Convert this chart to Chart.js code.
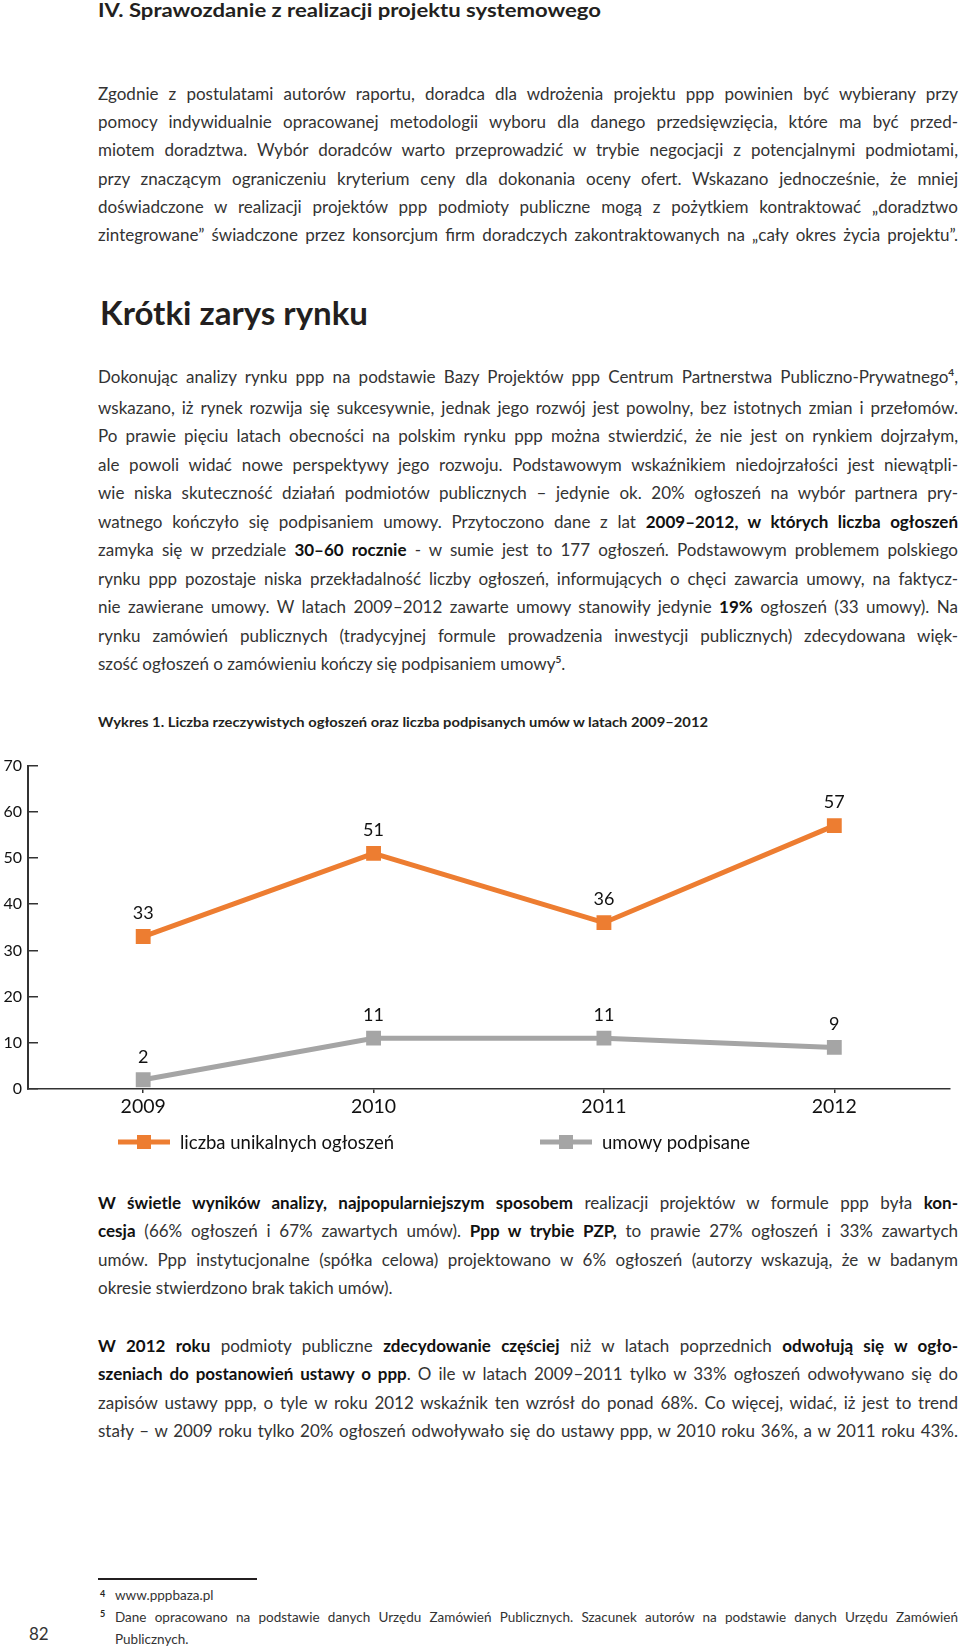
<!DOCTYPE html>
<html lang="pl">
<head>
<meta charset="utf-8">
<title>Krótki zarys rynku ppp</title>
<script src="https://cdn.jsdelivr.net/npm/chart.js@4.4.1/dist/chart.umd.min.js"></script>
<style>
  html, body { margin: 0; padding: 0; background: #fff; }
  body {
    width: 960px; height: 1650px; position: relative; overflow: hidden;
    font-family: Lato, "Open Sans", sans-serif; color: #231f20;
  }
  .one { position: absolute; white-space: nowrap; transform-origin: 0 0; }
  .para { position: absolute; left: 98px; width: 860px; font-size: 17px; font-weight: 400; color: #333; }
  .ln { white-space: nowrap; width: 860px; transform-origin: 0 0; }
  .ln.just { text-align: justify; text-align-last: justify; }
  b { font-weight: 700; color: #111; }
  .sup { font-size: 10px; position: relative; top: -7px; font-weight: 700; }
  #wykres { position: absolute; left: 0; top: 740px; }
</style>
</head>
<body>

<div class="one" data-w="503" style="left:98px;top:-1.5px;font-size:19px;line-height:22.8px;font-weight:700;">IV. Sprawozdanie z realizacji projektu systemowego</div>

<div class="para" style="top:79.7px;line-height:28.3px;">
  <div class="ln j"><span>Zgodnie z postulatami autorów raportu, doradca dla wdrożenia projektu ppp powinien być wybierany przy</span></div>
  <div class="ln j"><span>pomocy indywidualnie opracowanej metodologii wyboru dla danego przedsięwzięcia, które ma być przed-</span></div>
  <div class="ln j"><span>miotem doradztwa. Wybór doradców warto przeprowadzić w trybie negocjacji z potencjalnymi podmiotami,</span></div>
  <div class="ln j"><span>przy znaczącym ograniczeniu kryterium ceny dla dokonania oceny ofert. Wskazano jednocześnie, że mniej</span></div>
  <div class="ln j"><span>doświadczone w realizacji projektów ppp podmioty publiczne mogą z pożytkiem kontraktować „doradztwo</span></div>
  <div class="ln j"><span>zintegrowane” świadczone przez konsorcjum firm doradczych zakontraktowanych na „cały okres życia projektu”.</span></div>
</div>

<div class="one" data-w="268" style="left:100px;top:293px;font-size:33px;line-height:39.6px;font-weight:700;">Krótki zarys rynku</div>

<div class="para" style="top:363px;line-height:28.5px;">
  <div class="ln j"><span>Dokonując analizy rynku ppp na podstawie Bazy Projektów ppp Centrum Partnerstwa Publiczno-Prywatnego<span class="sup">4</span>,</span></div>
  <div class="ln j"><span>wskazano, iż rynek rozwija się sukcesywnie, jednak jego rozwój jest powolny, bez istotnych zmian i przełomów.</span></div>
  <div class="ln j"><span>Po prawie pięciu latach obecności na polskim rynku ppp można stwierdzić, że nie jest on rynkiem dojrzałym,</span></div>
  <div class="ln j"><span>ale powoli widać nowe perspektywy jego rozwoju. Podstawowym wskaźnikiem niedojrzałości jest niewątpli-</span></div>
  <div class="ln j"><span>wie niska skuteczność działań podmiotów publicznych – jedynie ok. 20% ogłoszeń na wybór partnera pry-</span></div>
  <div class="ln j"><span>watnego kończyło się podpisaniem umowy. Przytoczono dane z lat <b>2009–2012, w których liczba ogłoszeń</b></span></div>
  <div class="ln j"><span>zamyka się w przedziale <b>30–60 rocznie</b> - w sumie jest to 177 ogłoszeń. Podstawowym problemem polskiego</span></div>
  <div class="ln j"><span>rynku ppp pozostaje niska przekładalność liczby ogłoszeń, informujących o chęci zawarcia umowy, na faktycz-</span></div>
  <div class="ln j"><span>nie zawierane umowy. W latach 2009–2012 zawarte umowy stanowiły jedynie <b>19%</b> ogłoszeń (33 umowy). Na</span></div>
  <div class="ln j"><span>rynku zamówień publicznych (tradycyjnej formule prowadzenia inwestycji publicznych) zdecydowana więk-</span></div>
  <div class="ln"><span>szość ogłoszeń o zamówieniu kończy się podpisaniem umowy<span class="sup">5</span>.</span></div>
</div>

<div class="one" data-w="610" style="left:98px;top:713.7px;font-size:13.5px;line-height:16.2px;font-weight:700;">Wykres 1. Liczba rzeczywistych ogłoszeń oraz liczba podpisanych umów w latach 2009–2012</div>

<canvas id="wykres" width="960" height="420"></canvas>

<div class="para" style="top:1189px;line-height:28.3px;">
  <div class="ln j"><span><b>W świetle wyników analizy, najpopularniejszym sposobem</b> realizacji projektów w formule ppp była <b>kon-</b></span></div>
  <div class="ln j"><span><b>cesja</b> (66% ogłoszeń i 67% zawartych umów). <b>Ppp w trybie PZP,</b> to prawie 27% ogłoszeń i 33% zawartych</span></div>
  <div class="ln j"><span>umów. Ppp instytucjonalne (spółka celowa) projektowano w 6% ogłoszeń (autorzy wskazują, że w badanym</span></div>
  <div class="ln"><span>okresie stwierdzono brak takich umów).</span></div>
</div>

<div class="para" style="top:1332px;line-height:28.3px;">
  <div class="ln j"><span><b>W 2012 roku</b> podmioty publiczne <b>zdecydowanie częściej</b> niż w latach poprzednich <b>odwołują się w ogło-</b></span></div>
  <div class="ln j"><span><b>szeniach do postanowień ustawy o ppp</b>. O ile w latach 2009–2011 tylko w 33% ogłoszeń odwoływano się do</span></div>
  <div class="ln j"><span>zapisów ustawy ppp, o tyle w roku 2012 wskaźnik ten wzrósł do ponad 68%. Co więcej, widać, iż jest to trend</span></div>
  <div class="ln j"><span>stały – w 2009 roku tylko 20% ogłoszeń odwoływało się do ustawy ppp, w 2010 roku 36%, a w 2011 roku 43%.</span></div>
</div>

<div style="position:absolute;left:98px;top:1578px;width:159px;height:1.5px;background:#231f20;"></div>
<div class="one" style="left:100px;top:1588px;font-size:9px;font-weight:700;">4</div>
<div class="one" style="left:115px;top:1587px;font-size:13.5px;line-height:16.2px;color:#333;">www.pppbaza.pl</div>
<div class="one" style="left:100px;top:1608px;font-size:9px;font-weight:700;">5</div>
<div class="para" style="left:115px;width:843px;top:1606px;font-size:13.5px;line-height:22px;">
  <div class="ln j" data-w="843" style="width:843px;"><span>Dane opracowano na podstawie danych Urzędu Zamówień Publicznych. Szacunek autorów na podstawie danych Urzędu Zamówień</span></div>
  <div class="ln" style="width:843px;"><span>Publicznych.</span></div>
</div>
<div class="one" style="left:29px;top:1624px;font-size:17px;line-height:20.4px;color:#333;">82</div>

<script>
// Wykres 1 - dane
const years = ["2009", "2010", "2011", "2012"];
const ogloszenia = [33, 51, 36, 57];
const umowy = [2, 11, 11, 9];
const yTicks = [0, 10, 20, 30, 40, 50, 60, 70];
const seriesNames = ["liczba unikalnych ogłoszeń", "umowy podpisane"];
const seriesColors = ["#ED7D31", "#A5A5A5"];

// justify lines of text, squeeze the ones that are too long
function fitText() {
    document.querySelectorAll(".ln").forEach(el => {
        const target = el.dataset.w ? +el.dataset.w : 860;
        const w = el.firstElementChild.getBoundingClientRect().width;
        if (w > target) {
            el.style.transform = `scaleX(${target / w})`;
        } else if (el.classList.contains("j")) {
            el.classList.add("just");
        }
    });
    document.querySelectorAll(".one[data-w]").forEach(el => {
        const w = el.getBoundingClientRect().width;
        el.style.transform = `scaleX(${+el.dataset.w / w})`;
    });
}

// value above every point
const valueLabels = {
    id: "valueLabels",
    afterDatasetsDraw(chart) {
        const ctx = chart.ctx;
        ctx.save();
        ctx.font = "18px Lato";
        ctx.fillStyle = "#111";
        ctx.textAlign = "center";
        ctx.textBaseline = "middle";
        chart.data.datasets.forEach((ds, i) => {
            chart.getDatasetMeta(i).data.forEach((pt, j) => {
                ctx.fillText(String(ds.data[j]), pt.x, pt.y - 23);
            });
        });
        ctx.restore();
    }
};

// legend row: line with square marker, then the name
const legendRow = {
    id: "legendRow",
    afterDraw(chart) {
        const ctx = chart.ctx;
        const y = 402;
        const xs = [118, 540];
        ctx.save();
        chart.data.datasets.forEach((ds, i) => {
            const x = xs[i];
            ctx.strokeStyle = ds.borderColor;
            ctx.lineWidth = 5;
            ctx.beginPath();
            ctx.moveTo(x, y);
            ctx.lineTo(x + 52, y);
            ctx.stroke();
            ctx.fillStyle = ds.borderColor;
            ctx.fillRect(x + 19, y - 7, 14, 14);
            ctx.fillStyle = "#111";
            ctx.font = "18.5px Lato";
            ctx.textAlign = "left";
            ctx.textBaseline = "middle";
            ctx.fillText(ds.label, x + 62, y + 1);
        });
        ctx.restore();
    }
};

function drawChart() {
    new Chart(document.getElementById("wykres"), {
        type: "line",
        data: {
            labels: years,
            datasets: [
                { label: seriesNames[0], data: ogloszenia, borderColor: seriesColors[0], backgroundColor: seriesColors[0] },
                { label: seriesNames[1], data: umowy, borderColor: seriesColors[1], backgroundColor: seriesColors[1] }
            ]
        },
        options: {
            responsive: false,
            animation: false,
            layout: { padding: { top: 24, right: 4, left: 0, bottom: 0 } },
            elements: {
                line: { borderWidth: 5, tension: 0 },
                point: { pointStyle: "rect", radius: 10.5, borderWidth: 0, hoverRadius: 10.5 }
            },
            plugins: { legend: { display: false }, tooltip: { enabled: false } },
            scales: {
                x: {
                    offset: true,
                    grid: { offset: false, drawOnChartArea: false, tickLength: 4, color: "#333", lineWidth: 1.5 },
                    border: { color: "#333", width: 1.5 },
                    ticks: { font: { family: "Lato", size: 19.5 }, color: "#111", padding: 2, maxRotation: 0 },
                    afterFit(s) { s.height = 71; }
                },
                y: {
                    min: 0,
                    max: 70,
                    afterBuildTicks(s) { s.ticks = yTicks.map(v => ({ value: v })); },
                    grid: { drawOnChartArea: false, tickLength: -10, color: "#333", lineWidth: 1.5 },
                    border: { color: "#333", width: 2 },
                    ticks: { font: { family: "Lato", size: 16 }, color: "#111", padding: 16 },
                    afterFit(s) { s.width = 28; }
                }
            }
        },
        plugins: [valueLabels, legendRow]
    });
}

Promise.all([
    document.fonts.load("400 16px Lato"),
    document.fonts.load("700 16px Lato")
]).catch(() => {}).then(() => {
    fitText();
    drawChart();
});
</script>
</body>
</html>
